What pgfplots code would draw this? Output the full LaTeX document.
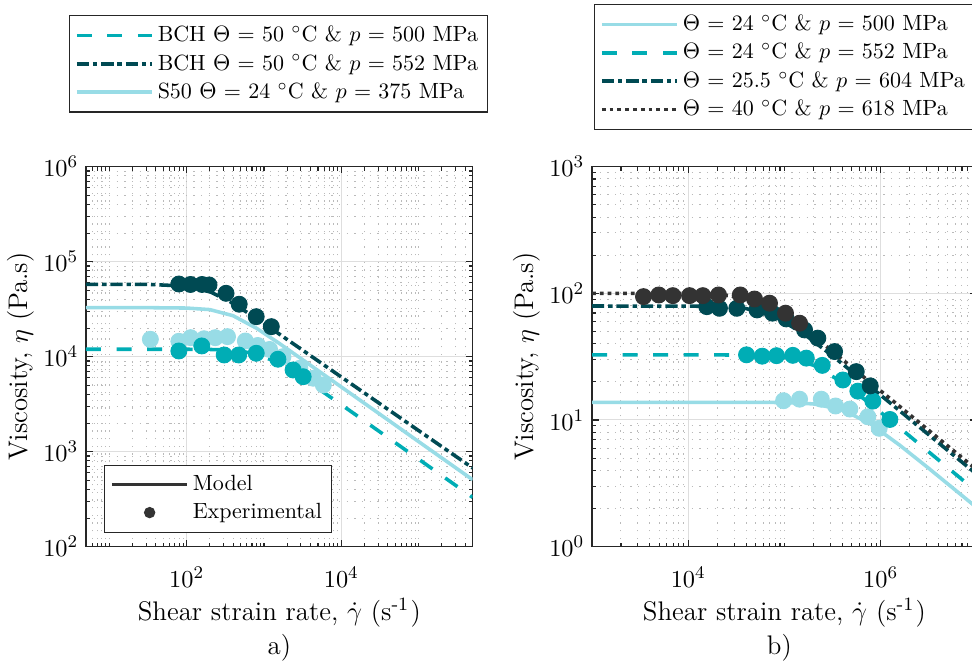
\documentclass[border=0pt]{standalone}
\usepackage{pgfplots}
\pgfplotsset{compat=1.18}
\definecolor{cLight}{HTML}{98DCE6}
\definecolor{cTeal}{HTML}{00ADB5}
\definecolor{cDark}{HTML}{004A53}
\definecolor{cGray}{HTML}{333333}
\definecolor{cAxis}{HTML}{262626}
\pgfplotsset{
  legstyle/.style={
    legend cell align=left,
    legend style={font=\fontsize{9.9}{12}\selectfont, draw=cAxis, line width=0.5pt,
      inner xsep=2.5pt, inner ysep=3pt, nodes={inner sep=1.6pt}, row sep=1pt},
    legend image code/.code={\draw[##1] (0pt,0pt) -- (34pt,0pt);},
  },
  myaxis/.style={
    scale only axis,
    grid=both,
    major grid style={black!13, line width=0.45pt},
    minor grid style={black!27, line width=0.45pt, dash pattern=on 0.55pt off 2.9pt},
    axis line style={cAxis, line width=0.6pt},
    tick style={cAxis, line width=0.5pt},
    major tick length=3pt, minor tick length=1.8pt,
    tick align=inside,
    font=\fontsize{11}{13}\selectfont,
    label style={font=\fontsize{12.1}{15.5}\selectfont},
    xticklabel style={yshift=-5.5pt},
    xlabel style={yshift=1.8pt},
    ylabel shift=-3pt,
    legstyle,
  },
  model/.style={line width=1.6pt, no marks},
  expt/.style={only marks, mark=*, mark size=3.6pt, forget plot},
  dsh/.style={dash pattern=on 6.75pt off 7pt},
  dshdot/.style={dash pattern=on 5.5pt off 1.75pt on 2pt off 1.75pt},
  dtt/.style={dash pattern=on 1.7pt off 1.8pt},
}
\begin{document}
\begin{tikzpicture}
\useasboundingbox (0,0) rectangle (437.4pt,299.7pt);
% ---------------- panel a ----------------
\begin{loglogaxis}[myaxis, name=axa, at={(38.7pt,53.7pt)}, anchor=south west,
  width=174pt, height=171pt,
  xmin=5, xmax=5e5, ymin=1e2, ymax=1e6,
  xtick={100,10000},
  minor xtick={5,6,7,8,9,10,20,30,40,50,60,70,80,90,200,300,400,500,600,700,800,900,1000,2000,3000,4000,5000,6000,7000,8000,9000,20000,30000,40000,50000,60000,70000,80000,90000,100000,200000,300000,400000,500000},
  ytick={100,1000,10000,100000,1000000},
  minor ytick={200,300,400,500,600,700,800,900,2000,3000,4000,5000,6000,7000,8000,9000,20000,30000,40000,50000,60000,70000,80000,90000,200000,300000,400000,500000,600000,700000,800000,900000},
  xlabel={Shear strain rate, $\dot{\gamma}$ (s\textsuperscript{-1}\kern0.6pt)},
  ylabel={Viscosity, $\eta$ (Pa.s)},
  legend style={at={(-0.044,1.399)}, anchor=north west},
]
\addplot[model, cTeal, dsh] coordinates {(5,11970) (31.6,11970) (100,11970) (199.5,11910) (398.1,11700) (794.3,10740) (1585,8511) (3162,5998) (10000,3126) (31620,1614) (100000,834) (500000,330)};
\addlegendentry{BCH $\Theta$ = 50 $^{\circ}$C \& $p$ = 500 MPa}
\addplot[model, cDark, dshdot] coordinates {(5,57800) (31.6,57700) (100,55300) (199.5,48400) (398.1,36500) (794.3,25350) (1585,17260) (3162,11700) (10000,6110) (31620,3192) (100000,1667) (500000,673)};
\addlegendentry{BCH $\Theta$ = 50 $^{\circ}$C \& $p$ = 552 MPa}
\addplot[model, cLight] coordinates {(5,32800) (31.6,32800) (100,32500) (199.5,31300) (398.1,27000) (794.3,20000) (1585,13770) (3162,9290) (10000,4797) (31620,2477) (100000,1276) (500000,506)};
\addlegendentry{S50 $\Theta$ = 24 $^{\circ}$C \& $p$ = 375 MPa}
\addplot[expt, cLight] coordinates {(34.0,15240) (79.4,14520) (112.7,15850) (168.3,15450) (234.4,15850) (338.1,16250) (575.4,14620) (831.8,13120) (1183,11910) (1762,10000) (2911,7551) (4345,5929) (5861,5035)};
\addplot[expt, cTeal] coordinates {(79.4,11480) (157.0,12970) (306.2,10420) (471.0,10420) (794.3,10860) (1517,9397) (2382,7244) (3214,6152)};
\addplot[expt, cDark] coordinates {(79.4,58210) (112.2,57540) (158.5,57540) (195,56890) (323.6,46450) (478.6,35650) (794.3,26360) (1245,20700)};
\end{loglogaxis}
\node[anchor=base, yshift=-48.7pt, font=\fontsize{12.1}{15.5}\selectfont] at (axa.south) {a)};
% inner legend of panel a
\begin{axis}[legstyle, scale only axis, at={(38.7pt,53.7pt)}, anchor=south west,
  width=174pt, height=171pt, hide axis,
  xmin=0, xmax=1, ymin=0, ymax=1,
  legend style={at={(0.0465,0.0368)}, anchor=south west},
]
\addlegendimage{line width=1.6pt, cGray}
\addlegendentry{Model}
\addlegendimage{legend image code/.code={\fill[cGray] (17pt,0pt) circle (2.3pt);}}
\addlegendentry{Experimental}
\end{axis}
% ---------------- panel b ----------------
\begin{loglogaxis}[myaxis, name=axb, at={(266.4pt,53.7pt)}, anchor=south west,
  width=173.2pt, height=171pt,
  xmin=1e3, xmax=1e7, ymin=1, ymax=1e3,
  xtick={10000,1000000},
  minor xtick={1000,2000,3000,4000,5000,6000,7000,8000,9000,20000,30000,40000,50000,60000,70000,80000,90000,100000,200000,300000,400000,500000,600000,700000,800000,900000,2000000,3000000,4000000,5000000,6000000,7000000,8000000,9000000,10000000},
  ytick={1,10,100,1000},
  minor ytick={2,3,4,5,6,7,8,9,20,30,40,50,60,70,80,90,200,300,400,500,600,700,800,900},
  xlabel={Shear strain rate, $\dot{\gamma}$ (s\textsuperscript{-1}\kern0.6pt)},
  ylabel={Viscosity, $\eta$ (Pa.s)},
  legend style={at={(0.0052,1.428)}, anchor=north west},
]
\addplot[model, cLight] coordinates {(1000,13.8) (10000,13.8) (31620,13.8) (100000,13.74) (199500,13.40) (398100,12.08) (794300,9.26) (1585000,6.31) (3162000,4.15) (10000000,2.03)};
\addlegendentry{$\Theta$ = 24 $^{\circ}$C \& $p$ = 500 MPa}
\addplot[model, cTeal, dsh] coordinates {(1000,32.66) (10000,32.66) (31620,32.6) (63100,32.18) (100000,31.24) (199500,27.1) (398100,19.9) (794300,13.27) (1585000,8.65) (3162000,5.60) (10000000,2.71)};
\addlegendentry{$\Theta$ = 24 $^{\circ}$C \& $p$ = 552 MPa}
\addplot[model, cDark, dshdot] coordinates {(1000,79.43) (10000,79.3) (19950,78.7) (39810,75.9) (79430,65.5) (158500,47.97) (316200,32.06) (631000,20.94) (1585000,11.78) (3981000,6.62) (10000000,3.72)};
\addlegendentry{$\Theta$ = 25.5 $^{\circ}$C \& $p$ = 604 MPa}
\addplot[model, cGray, dtt] coordinates {(1000,100) (10000,99.7) (19950,98.4) (39810,92.3) (79430,75.2) (158500,52.7) (316200,34.8) (631000,22.6) (1585000,12.75) (3981000,7.17) (10000000,4.04)};
\addlegendentry{$\Theta$ = 40 $^{\circ}$C \& $p$ = 618 MPa}
\addplot[expt, cLight] coordinates {(97950,14.2) (143600,14.6) (241500,14.6) (339600,12.9) (478600,12.2) (736200,10.6) (966100,8.6)};
\addplot[expt, cTeal] coordinates {(40360,32.7) (58750,31.9) (82790,32.2) (122200,32.4) (168700,30.8) (247200,27.0) (404600,20.7) (579400,16.9) (829600,14.1) (1247000,10.1)};
\addplot[expt, cDark] coordinates {(15600,78.5) (21130,76.2) (31990,76.2) (51880,74.0) (75160,69.7) (104400,62.8) (161800,51.4) (222300,44.3) (331900,34.7) (557200,24.1) (779800,18.6)};
\addplot[expt, cGray] coordinates {(3428,94.2) (4943,97.1) (6918,95.9) (10320,95.9) (14190,95.9) (20650,97.1) (34750,97.1) (48870,90.2) (69980,83.6) (102600,69.7) (143600,58.1)};
\end{loglogaxis}
\node[anchor=base, yshift=-48.7pt, font=\fontsize{12.1}{15.5}\selectfont] at ([xshift=-2.3pt]axb.south) {b)};
\end{tikzpicture}
\end{document}
